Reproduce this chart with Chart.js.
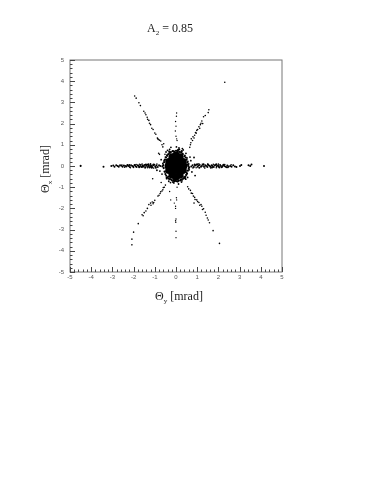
<!DOCTYPE html>
<html>
<head>
<meta charset="utf-8">
<style>
  html, body { margin: 0; padding: 0; background: #fff; }
  canvas { display: block; filter: blur(0.5px); }
</style>
</head>
<body>
<canvas id="chart" width="374" height="484"></canvas>
<script src="https://cdn.jsdelivr.net/npm/chart.js@4/dist/chart.umd.min.js"></script>
<script>
const tickValues = [-5, -4, -3, -2, -1, 0, 1, 2, 3, 4, 5];

// dense middle of the spot
const coreX = [0, 0.17, -0.17, 0.36, -0.36, 0, 0, 0, 0, 0.2, -0.2, 0.2, -0.2, 0.18, -0.18, 0.18, -0.18, 0.33, -0.33, 0.33, -0.33];
const coreY = [0, 0, 0, 0, 0, 0.2, -0.2, 0.5, -0.52, 0.2, 0.2, -0.2, -0.2, 0.42, 0.42, -0.42, -0.42, 0.2, 0.2, -0.2, -0.2];

// loose points round the spot
const haloX = [0.05, 0.18, -0.12, 0.3, -0.28, 0.42, -0.42, 0.52, -0.5, 0.56, -0.56, 0.6, -0.62, 0.5, -0.52, 0.38, -0.36, 0.22, -0.2, 0.08, -0.06, 0.3, -0.3, 0.46, -0.44, 0.62, 0.7, -0.7, 0.75, -0.76, 0.85, 0.9, -0.9, 0.02, 0.14, -0.24, 0.34, -0.34, 0.12, -0.1, 0.26, -0.26, 0.47, -0.47, 0.66, -0.66, 0.16, -0.4, 0.55, 0.28];
const haloY = [0.72, 0.68, 0.7, 0.6, 0.62, 0.5, 0.52, 0.38, 0.42, 0.22, 0.26, 0.1, 0.12, -0.3, -0.28, -0.52, -0.5, -0.64, -0.68, -0.74, -0.72, 0.82, 0.78, -0.62, -0.6, -0.18, 0.25, 0.3, -0.28, -0.24, 0.4, -0.45, -0.2, 0.9, 0.85, 0.88, 0.76, -0.72, -0.85, -0.8, -0.76, -0.78, 0.6, 0.66, 0.42, -0.38, 0.78, 0.74, -0.54, -0.7];

const haloInnerX = [0.54, 0.58, 0.6, 0.56, 0.52, 0.48, 0.44, 0.4, 0.34, 0.28, 0.2, 0.12, 0.04, -0.04, -0.12, -0.2, -0.28, -0.34, -0.4, -0.46, -0.5, -0.54, -0.58, -0.6, -0.56, -0.52, -0.47, -0.42, -0.36, -0.3, -0.24, -0.16, -0.08, 0.0, 0.08, 0.15, 0.24, 0.32, 0.4, 0.46, 0.5, 0.56, 0.1, -0.14, 0.27, -0.32, 0.43, -0.44, 0.62, -0.64];
const haloInnerY = [0.16, 0.0, -0.12, -0.22, -0.36, -0.42, -0.5, -0.55, -0.6, -0.63, -0.68, -0.7, -0.72, -0.7, -0.68, -0.66, -0.62, -0.6, -0.54, -0.46, -0.38, -0.26, -0.1, 0.04, 0.18, 0.3, 0.4, 0.48, 0.56, 0.62, 0.66, 0.7, 0.68, 0.72, 0.7, 0.66, 0.64, 0.56, 0.46, 0.4, 0.3, 0.06, 0.76, -0.76, 0.7, 0.68, -0.58, -0.56, -0.06, -0.02];

const armLeftX = [-4.5, -3.42, -3.05, -2.96, -2.9, -2.82, -2.75, -2.7, -2.64, -2.58, -2.52, -2.46, -2.4, -2.34, -2.3, -2.24, -2.18, -2.12, -2.06, -2.02, -1.96, -1.9, -1.86, -1.8, -1.76, -1.7, -1.66, -1.62, -1.56, -1.52, -1.48, -1.44, -1.4, -1.36, -1.32, -1.28, -1.24, -1.2, -1.16, -1.12, -1.08, -1.02, -0.98, -0.92, -0.86, -0.8, -0.74, -2.2, -1.94, -1.74, -1.58, -1.42, -1.3, -1.22, -1.14, -1.06, -0.95];
const armLeftY = [0.0, -0.03, 0.0, 0.02, -0.04, 0.03, 0.0, -0.03, 0.03, 0.01, -0.04, 0.02, 0.0, -0.02, 0.04, 0.0, -0.05, 0.03, 0.0, -0.03, 0.03, -0.01, -0.05, 0.04, 0.0, -0.02, 0.05, -0.05, 0.02, -0.02, 0.05, -0.06, 0.01, 0.06, -0.04, 0.02, -0.07, 0.05, 0.0, -0.05, 0.03, 0.06, -0.02, 0.02, -0.05, 0.03, 0.0, 0.05, 0.05, -0.06, -0.03, 0.07, 0.08, -0.03, -0.08, 0.07, -0.08];

const armRightX = [0.72, 0.78, 0.84, 0.9, 0.96, 1.02, 1.06, 1.12, 1.18, 1.22, 1.28, 1.32, 1.38, 1.42, 1.48, 1.52, 1.58, 1.62, 1.68, 1.72, 1.78, 1.82, 1.88, 1.92, 1.98, 2.02, 2.08, 2.12, 2.18, 2.22, 2.28, 2.34, 2.42, 2.48, 2.56, 2.62, 2.7, 2.78, 2.85, 3.02, 3.08, 3.42, 3.5, 3.56, 4.15, 1.1, 1.3, 1.5, 1.7, 1.9, 2.05, 2.25, 0.88, 1.0, 2.4];
const armRightY = [-0.02, 0.03, -0.05, 0.02, 0.06, -0.04, 0.02, 0.05, -0.03, 0.0, 0.06, -0.04, 0.03, 0.0, -0.05, 0.05, 0.01, -0.03, 0.04, 0.0, -0.05, 0.03, 0.05, -0.02, 0.02, -0.04, 0.05, 0.0, -0.04, 0.03, 0.0, -0.03, 0.02, -0.02, 0.0, -0.04, 0.03, -0.02, -0.05, 0.0, 0.05, 0.03, 0.0, 0.07, 0.0, -0.08, 0.08, 0.07, -0.07, 0.08, -0.07, 0.06, 0.07, 0.08, -0.06];

// thicker, darker stretches of the two flat arms
const armDenseX = [-2.55, -2.42, -2.28, -2.15, -2.0, -1.88, -1.72, -1.6, -1.46, -1.34, -1.2, -1.05, -0.9, 0.8, 0.95, 1.08, 1.24, 1.36, 1.5, 1.64, 1.76, 1.9, 2.0, 2.15, 2.3, 2.45, 2.6];
const armDenseY = [0.05, -0.06, 0.06, -0.08, -0.07, 0.07, 0.08, 0.09, -0.09, -0.08, 0.1, -0.1, 0.09, -0.09, -0.08, 0.1, 0.08, -0.1, 0.09, -0.09, 0.08, -0.08, 0.09, -0.07, 0.07, -0.07, 0.06];

const upLeftX = [-1.95, -1.88, -1.75, -1.68, -1.52, -1.46, -1.42, -1.36, -1.34, -1.28, -1.25, -1.2, -1.14, -1.08, -1.0, -0.95, -0.88, -0.84, -0.78, -0.72, -0.66, -0.62, -0.58, -0.86, -0.52];
const upLeftY = [3.3, 3.2, 2.98, 2.85, 2.58, 2.5, 2.42, 2.3, 2.2, 2.15, 2.02, 1.95, 1.78, 1.72, 1.56, 1.5, 1.32, 1.25, 1.22, 1.18, 1.0, 0.9, 1.05, 1.3, 0.55];

const upRightX = [1.55, 1.52, 1.38, 1.3, 1.22, 1.26, 1.15, 1.08, 1.02, 0.98, 0.92, 0.88, 0.85, 0.8, 0.78, 0.72, 0.7, 0.68, 0.65, 0.95, 1.12, 1.18];
const upRightY = [2.65, 2.52, 2.38, 2.32, 2.12, 2.0, 1.95, 1.85, 1.72, 1.68, 1.58, 1.45, 1.32, 1.38, 1.2, 1.28, 1.1, 1.0, 0.88, 1.55, 1.78, 2.02];

const downLeftX = [-0.5, -0.55, -0.6, -0.62, -0.66, -0.72, -0.75, -0.8, -0.85, -1.0, -1.05, -1.08, -1.12, -1.18, -1.2, -1.28, -1.35, -1.42, -1.5, -1.55, -1.6, -1.78, -2.0, -2.08, -1.1, -0.7];
const downLeftY = [-0.9, -1.0, -1.02, -1.12, -1.18, -1.22, -1.3, -1.38, -1.42, -1.62, -1.72, -1.78, -1.7, -1.85, -1.75, -1.82, -2.0, -2.12, -2.2, -2.35, -2.3, -2.72, -3.12, -3.45, -0.6, -0.78];

const downRightX = [0.55, 0.6, 0.68, 0.72, 0.78, 0.82, 0.88, 0.9, 0.98, 1.02, 1.08, 1.12, 1.18, 1.22, 1.25, 1.3, 1.38, 1.42, 1.48, 1.52, 1.58, 1.75, 2.05, 0.85];
const downRightY = [-0.98, -1.08, -1.15, -1.28, -1.3, -1.42, -1.48, -1.58, -1.6, -1.68, -1.72, -1.85, -1.82, -1.9, -2.05, -2.02, -2.18, -2.32, -2.45, -2.55, -2.68, -3.05, -3.65, -1.75];

const upMidX = [0.03, 0.02, -0.02, 0.0, -0.03, 0.0, 0.03, 0.05];
const upMidY = [2.5, 2.35, 2.1, 1.88, 1.65, 1.4, 1.28, 1.2];

const downMidX = [0.05, 0.02, -0.25, -0.08, 0.03, -0.02, -0.02, 0.0, -0.02, -0.01, 0.0, 0.0, -0.3];
const downMidY = [-1.0, -1.5, -1.6, -1.75, -1.6, -1.9, -2.0, -2.5, -2.58, -2.65, -3.08, -3.38, -1.2];

const outlierX = [2.3, -2.08, -0.82, -0.78, -4.5];
const outlierY = [3.95, -3.72, 0.6, 0.55, 0.02];

function points(xs, ys) {
    return xs.map((x, i) => ({ x: x, y: ys[i] }));
}

function dots(xs, ys, radius) {
    return { data: points(xs, ys), pointRadius: radius, pointBackgroundColor: '#000', pointBorderWidth: 0 };
}

// inward ROOT style ticks, frame and the text with subscripts
const frame = {
    id: 'frame',
    afterDatasetsDraw(chart) {
        const ctx = chart.ctx;
        const area = chart.chartArea;
        const sx = chart.scales.x;
        const sy = chart.scales.y;
        ctx.save();
        ctx.strokeStyle = '#777';
        ctx.lineWidth = 1;
        ctx.strokeRect(area.left, area.top, area.right - area.left, area.bottom - area.top);
        ctx.strokeStyle = '#444';
        for (let i = 0; i <= 50; i++) {
            const v = -5 + i * 0.2;
            const len = i % 5 === 0 ? 5 : 2.5;
            const px = Math.round(sx.getPixelForValue(v)) + 0.5;
            const py = Math.round(sy.getPixelForValue(v)) + 0.5;
            ctx.beginPath();
            ctx.moveTo(px, area.bottom);
            ctx.lineTo(px, area.bottom - len);
            ctx.moveTo(area.left, py);
            ctx.lineTo(area.left + len, py);
            ctx.stroke();
        }
        ctx.restore();
        ctx.save();
        ctx.fillStyle = '#222';
        drawSub(ctx, 'A', '2', ' = 0.85', 170, 29);
        drawSub(ctx, 'Θ', 'y', ' [mrad]', 179, 297);
        ctx.translate(46, 169);
        ctx.rotate(-Math.PI / 2);
        drawSub(ctx, 'Θ', 'x', ' [mrad]', 0, 0);
        ctx.restore();
    }
};

function drawSub(ctx, base, sub, rest, cx, cy) {
    const big = '12px "Liberation Serif"';
    const small = '7px "Liberation Serif"';
    ctx.textBaseline = 'middle';
    ctx.textAlign = 'left';
    ctx.font = big;
    const w1 = ctx.measureText(base).width;
    const w3 = ctx.measureText(rest).width;
    ctx.font = small;
    const w2 = ctx.measureText(sub).width;
    let x = cx - (w1 + w2 + w3) / 2;
    ctx.font = big;
    ctx.fillText(base, x, cy);
    x += w1;
    ctx.font = small;
    ctx.fillText(sub, x, cy + 4);
    x += w2;
    ctx.font = big;
    ctx.fillText(rest, x, cy);
}

const tickStyle = { size: 6, family: '"Liberation Sans"' };

new Chart(document.getElementById('chart'), {
    type: 'scatter',
    data: {
        datasets: [
            dots(coreX, coreY, 3.8),
            dots(haloX, haloY, 0.9),
            dots(haloInnerX, haloInnerY, 1.1),
            dots(armLeftX, armLeftY, 1),
            dots(armRightX, armRightY, 1),
            dots(armDenseX, armDenseY, 0.8),
            dots(upLeftX, upLeftY, 0.8),
            dots(upRightX, upRightY, 0.8),
            dots(downLeftX, downLeftY, 0.8),
            dots(downRightX, downRightY, 0.8),
            dots(upMidX, upMidY, 0.7),
            dots(downMidX, downMidY, 0.7),
            dots(outlierX, outlierY, 0.8)
        ]
    },
    options: {
        responsive: false,
        animation: false,
        layout: { padding: { top: 60, right: 92, bottom: 179, left: 0 } },
        plugins: { legend: { display: false }, tooltip: { enabled: false } },
        scales: {
            x: {
                type: 'linear',
                min: -5,
                max: 5,
                afterBuildTicks: (scale) => { scale.ticks = tickValues.map(v => ({ value: v })); },
                afterFit: (scale) => { scale.height = 33; },
                grid: { display: false, drawTicks: false },
                border: { display: false },
                ticks: { font: tickStyle, color: '#555', padding: 2, maxRotation: 0, autoSkip: false }
            },
            y: {
                type: 'linear',
                min: -5,
                max: 5,
                afterBuildTicks: (scale) => { scale.ticks = tickValues.map(v => ({ value: v })); },
                afterFit: (scale) => { scale.width = 70; },
                grid: { display: false, drawTicks: false },
                border: { display: false },
                ticks: { font: tickStyle, color: '#555', padding: 6, autoSkip: false }
            }
        }
    },
    plugins: [frame]
});
</script>
</body>
</html>
